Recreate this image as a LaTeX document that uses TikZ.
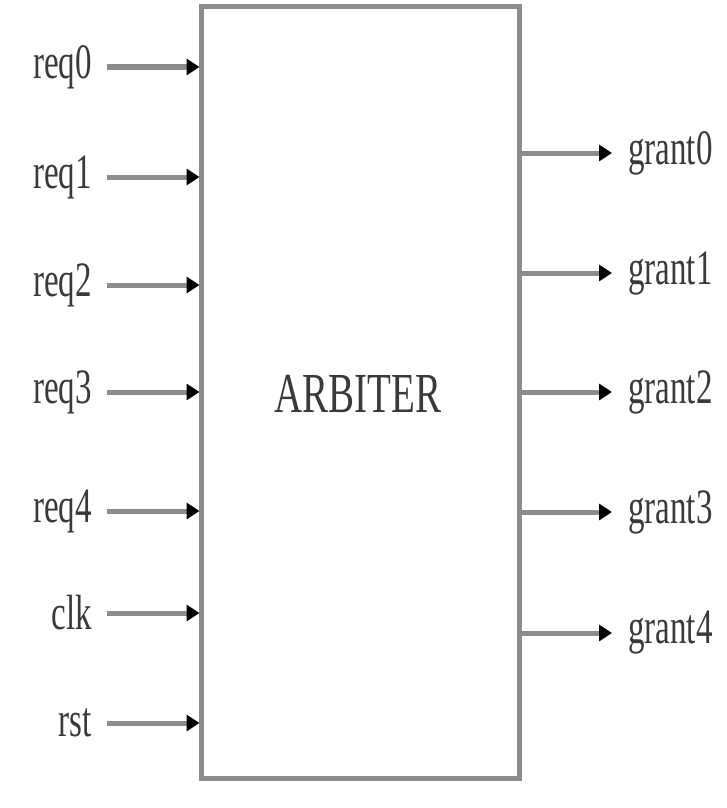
\documentclass[tikz,border=0pt]{standalone}
\usepackage{fontspec}
\setmainfont{Liberation Serif}
\usetikzlibrary{arrows.meta}
\definecolor{wire}{HTML}{8C8C8C}
\definecolor{ink}{HTML}{3A3A3A}
\begin{document}
\begin{tikzpicture}[x=1pt,y=-1pt,
  blk/.style={draw=wire,line width=5pt,minimum width=318pt,minimum height=771pt,inner sep=0pt},
  sig/.style={draw=wire,line width=5pt,-{Triangle[color=black,length=13pt,width=16pt]},shorten >=-1pt},
  lbl/.style={text=ink,inner sep=0pt,font=\fontsize{33}{33}\selectfont}]
\useasboundingbox (0,0) rectangle (727,808);
\node[blk] (box) at (360,392.5) {};
\node[text=ink,font=\fontsize{39}{39}\selectfont] (title) at (358,394) {\scalebox{1}[1.45]{ARBITER}};
% inputs
\foreach \n/\t/\y in {0/req0/67,1/req1/177,2/req2/285,3/req3/392,4/req4/511,5/clk/613,6/rst/723}{
  \node[lbl,anchor=east] (il\n) at (92,\y) {\scalebox{1}[1.5]{\t}};
  \coordinate (is\n) at (107,\y);
  \draw[sig] (is\n) -- (is\n -| box.west);
}
% outputs
\foreach \n/\y in {0/153,1/273,2/392,3/512,4/633}{
  \coordinate (oe\n) at (611,\y);
  \draw[sig] (oe\n -| box.east) -- (oe\n);
  \node[lbl,anchor=west] (ol\n) at (628,\y) {\scalebox{1}[1.5]{grant\n}};
}
\end{tikzpicture}
\end{document}
